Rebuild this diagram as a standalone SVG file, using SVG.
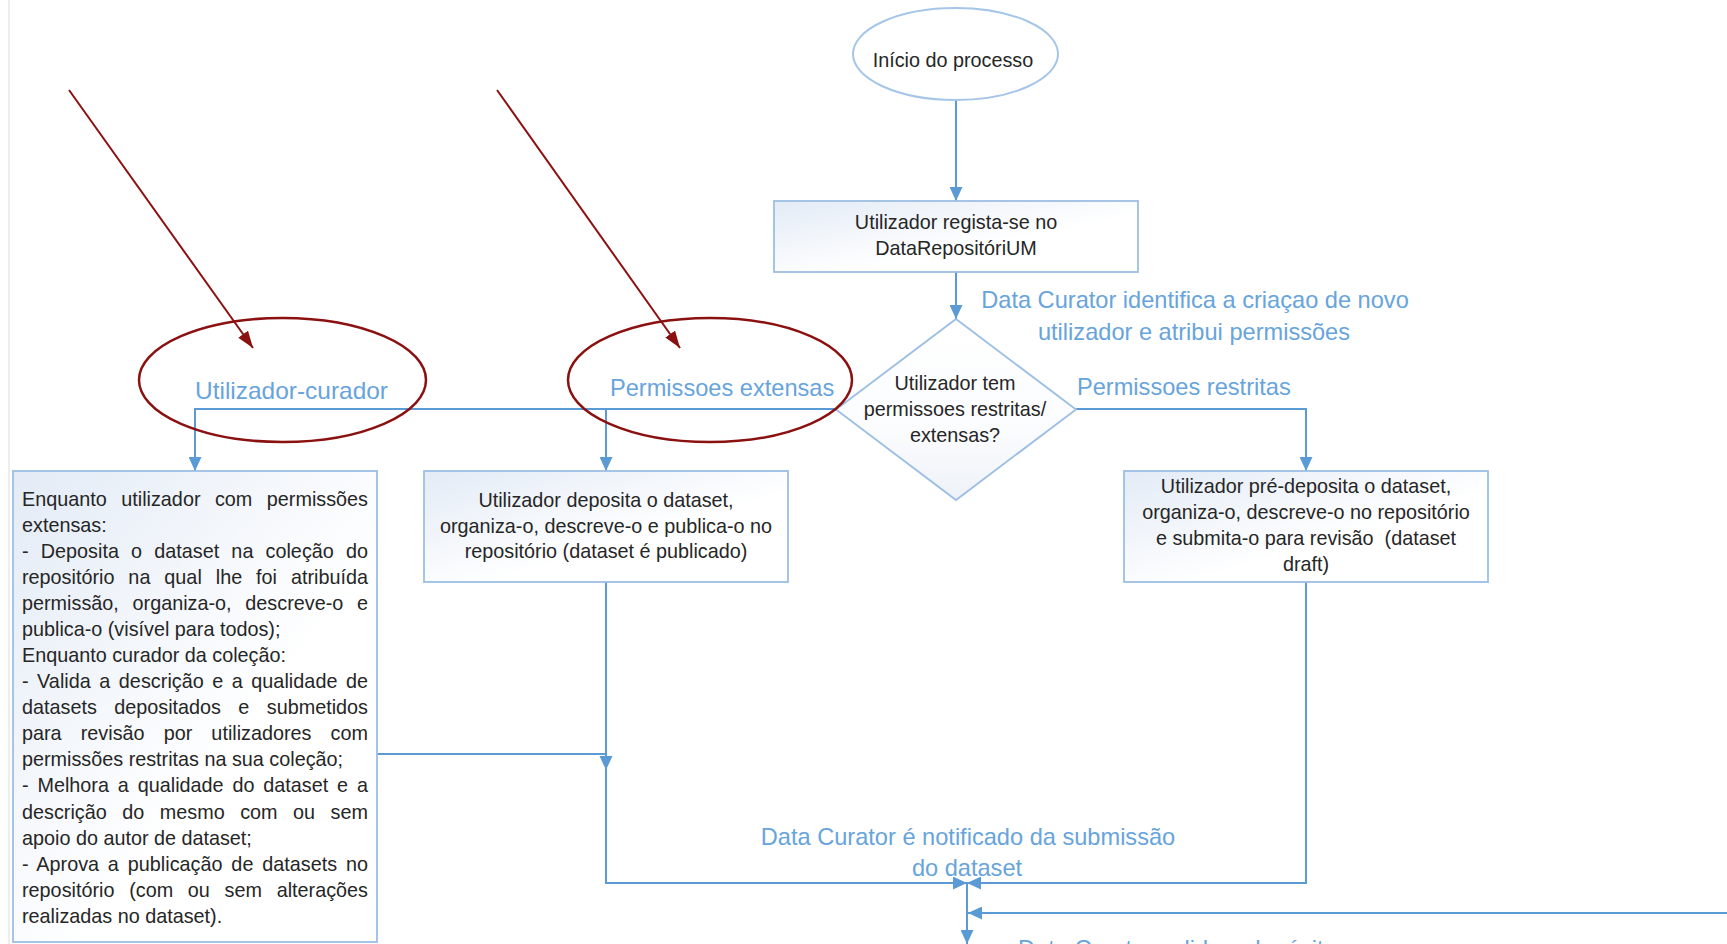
<svg xmlns="http://www.w3.org/2000/svg" width="1727" height="944" viewBox="0 0 1727 944">
  <style>
    .box { stroke: #9dbfe4; stroke-width: 1.8; }
    .conn { fill: none; stroke: #5b9bd5; stroke-width: 2; }
    .txt { font-family: "Liberation Sans", Arial, sans-serif; font-size: 19.8px; fill: #262626; }
    .lbl { font-family: "Liberation Sans", Arial, sans-serif; font-size: 23.6px; fill: #68a4dc; }
    .mid { text-anchor: middle; }
    .mark { fill: none; stroke: #8b1111; stroke-width: 2.5; }
    .pointer { stroke: #8b1111; stroke-width: 2; fill: none; }
    .head { fill: #5b9bd5; }
  </style>
  <defs>
    <linearGradient id="boxFill" x1="0" y1="0" x2="1" y2="1">
      <stop offset="0" stop-color="#e3ebf6"/>
      <stop offset="0.6" stop-color="#ffffff"/>
      <stop offset="1" stop-color="#ffffff"/>
    </linearGradient>
    <linearGradient id="diaFill" x1="0" y1="0" x2="0" y2="1">
      <stop offset="0" stop-color="#ffffff"/>
      <stop offset="0.6" stop-color="#fbfcfe"/>
      <stop offset="1" stop-color="#eef2f8"/>
    </linearGradient>
    <marker id="arrow" markerUnits="userSpaceOnUse" markerWidth="14" markerHeight="13" refX="14" refY="6.5" orient="auto">
      <path d="M0,0 L14,6.5 L0,13 z" fill="#5b9bd5"/>
    </marker>
    <marker id="redArrow" markerUnits="userSpaceOnUse" markerWidth="17" markerHeight="12" refX="17" refY="6" orient="auto">
      <path d="M0,0 L17,6 L0,12 z" fill="#8b1111"/>
    </marker>
  </defs>

  <rect width="1727" height="944" fill="#ffffff"/>
  <line x1="9" y1="0" x2="9" y2="944" stroke="#eeeeee" stroke-width="2"/>

  <!-- connectors -->
  <g id="connectors">
    <path class="conn" d="M956,100 L956,201" marker-end="url(#arrow)"/>
    <path class="conn" d="M956,272 L956,319" marker-end="url(#arrow)"/>
    <path class="conn" d="M836,409 L195,409 L195,471" marker-end="url(#arrow)"/>
    <path class="conn" d="M606,409 L606,471" marker-end="url(#arrow)"/>
    <path class="conn" d="M1076,409 L1306,409 L1306,471" marker-end="url(#arrow)"/>
    <path class="conn" d="M606,582 L606,883 L967,883" marker-end="url(#arrow)"/>
    <path class="conn" d="M377,754 L606,754"/>
    <path class="head" d="M599.5,756 L612.5,756 L606,770 z"/>
    <path class="conn" d="M1306,582 L1306,883 L967,883" marker-end="url(#arrow)"/>
    <path class="conn" d="M1727,913 L968,913" marker-end="url(#arrow)"/>
    <path class="conn" d="M967,883 L967,944" marker-end="url(#arrow)"/>
  </g>

  <!-- connector labels -->
  <g id="labels">
    <text class="lbl mid" x="1195" y="308">Data Curator identifica a criaçao de novo</text>
    <text class="lbl mid" x="1194" y="340">utilizador e atribui permissões</text>
    <text class="lbl" x="1077" y="395">Permissoes restritas</text>
    <text class="lbl" x="610" y="396">Permissoes extensas</text>
    <text class="lbl" x="195" y="399" textLength="193" lengthAdjust="spacingAndGlyphs">Utilizador-curador</text>
    <text class="lbl mid" x="968" y="845">Data Curator é notificado da submissão</text>
    <text class="lbl mid" x="967" y="876">do dataset</text>
    <text class="lbl" x="1018" y="957">Data Curator valida o depósito</text>
  </g>

  <!-- start -->
  <g id="start">
    <ellipse cx="955.5" cy="54" rx="102.5" ry="46" fill="#ffffff" stroke="#a5c6e8" stroke-width="2"/>
    <text class="txt mid" x="953" y="67">Início do processo</text>
  </g>

  <!-- registration -->
  <g id="register">
    <rect class="box" x="774" y="201" width="364" height="71" fill="url(#boxFill)"/>
    <text class="txt mid" x="956" y="229">Utilizador regista-se no</text>
    <text class="txt mid" x="956" y="255">DataRepositóriUM</text>
  </g>

  <!-- decision -->
  <g id="decision">
    <path class="box" d="M956,319 L1076,409.5 L956,500 L836,409.5 z" fill="url(#diaFill)"/>
    <text class="txt mid" x="955" y="390">Utilizador tem</text>
    <text class="txt mid" x="955" y="416">permissoes restritas/</text>
    <text class="txt mid" x="955" y="442">extensas?</text>
  </g>

  <!-- curator user: justified paragraph -->
  <g id="curator">
    <rect class="box" x="13" y="471" width="364" height="471" fill="url(#boxFill)"/>
    <g class="txt">
      <text x="22" y="506" word-spacing="8.97" textLength="346" lengthAdjust="spacing">Enquanto utilizador com permissões</text>
      <text x="22" y="532">extensas:</text>
      <text x="22" y="558" word-spacing="6.67" textLength="346" lengthAdjust="spacing">- Deposita o dataset na coleção do</text>
      <text x="22" y="584" word-spacing="8.45" textLength="346" lengthAdjust="spacing">repositório na qual lhe foi atribuída</text>
      <text x="22" y="610" word-spacing="8.23" textLength="346" lengthAdjust="spacing">permissão, organiza-o, descreve-o e</text>
      <text x="22" y="636">publica-o (visível para todos);</text>
      <text x="22" y="662">Enquanto curador da coleção:</text>
      <text x="22" y="688" word-spacing="2.9" textLength="346" lengthAdjust="spacing">- Valida a descrição e a qualidade de</text>
      <text x="22" y="714" word-spacing="11.87" textLength="346" lengthAdjust="spacing">datasets depositados e submetidos</text>
      <text x="22" y="740" word-spacing="13.6" textLength="346" lengthAdjust="spacing">para revisão por utilizadores com</text>
      <text x="22" y="766">permissões restritas na sua coleção;</text>
      <text x="22" y="792" word-spacing="3.37" textLength="346" lengthAdjust="spacing">- Melhora a qualidade do dataset e a</text>
      <text x="22" y="819" word-spacing="10" textLength="346" lengthAdjust="spacing">descrição do mesmo com ou sem</text>
      <text x="22" y="845">apoio do autor de dataset;</text>
      <text x="22" y="871" word-spacing="3.18" textLength="346" lengthAdjust="spacing">- Aprova a publicação de datasets no</text>
      <text x="22" y="897" word-spacing="9.2" textLength="346" lengthAdjust="spacing">repositório (com ou sem alterações</text>
      <text x="22" y="923">realizadas no dataset).</text>
    </g>
  </g>

  <!-- extended permissions -->
  <g id="extended">
    <rect class="box" x="424" y="471" width="364" height="111" fill="url(#boxFill)"/>
    <text class="txt mid" x="606" y="507">Utilizador deposita o dataset,</text>
    <text class="txt mid" x="606" y="532.5">organiza-o, descreve-o e publica-o no</text>
    <text class="txt mid" x="606" y="558">repositório (dataset é publicado)</text>
  </g>

  <!-- restricted permissions -->
  <g id="restricted">
    <rect class="box" x="1124" y="471" width="364" height="111" fill="url(#boxFill)"/>
    <text class="txt mid" x="1306" y="493">Utilizador pré-deposita o dataset,</text>
    <text class="txt mid" x="1306" y="519">organiza-o, descreve-o no repositório</text>
    <text class="txt mid" x="1306" y="545" xml:space="preserve">e submita-o para revisão  (dataset</text>
    <text class="txt mid" x="1306" y="571">draft)</text>
  </g>

  <!-- highlight marks -->
  <g id="highlights">
    <path class="pointer" d="M69,90 L253,348" marker-end="url(#redArrow)"/>
    <path class="pointer" d="M497,90 L680,348" marker-end="url(#redArrow)"/>
    <ellipse class="mark" cx="282.5" cy="380" rx="143.5" ry="62"/>
    <ellipse class="mark" cx="710" cy="380" rx="142" ry="62"/>
  </g>
</svg>
